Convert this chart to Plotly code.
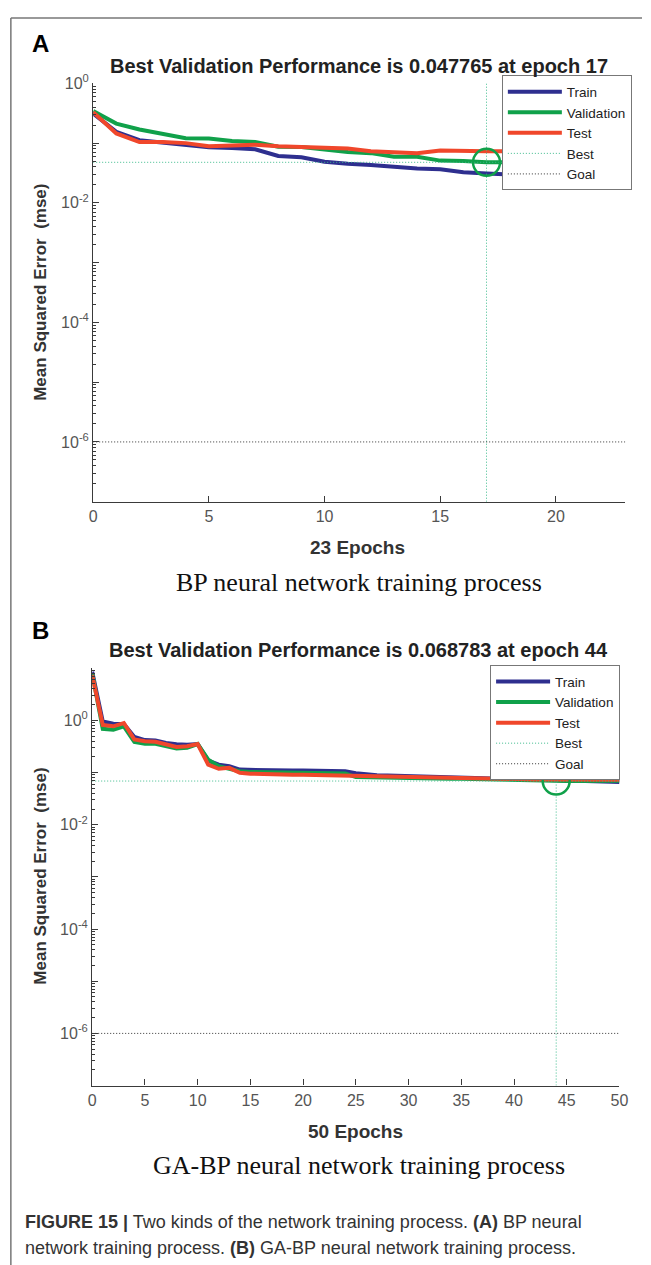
import plotly.graph_objects as go

# ---------------- data ----------------
# Panel A: BP network (23 epochs)
epochs_a = list(range(24))
train_a = [0.312, 0.155, 0.112, 0.103, 0.095, 0.085, 0.083, 0.079, 0.061, 0.058,
           0.049, 0.045, 0.043, 0.040, 0.0376, 0.0366, 0.0327, 0.031, 0.030, 0.029,
           0.028, 0.027, 0.026, 0.025]
val_a = [0.344, 0.212, 0.169, 0.141, 0.121, 0.120, 0.109, 0.104, 0.087, 0.086,
         0.077, 0.071, 0.068, 0.059, 0.059, 0.051, 0.050, 0.047765, 0.048, 0.049,
         0.050, 0.050, 0.051, 0.052]
test_a = [0.330, 0.145, 0.104, 0.104, 0.100, 0.089, 0.091, 0.094, 0.089, 0.087,
          0.083, 0.081, 0.073, 0.071, 0.068, 0.075, 0.073, 0.073, 0.073, 0.074,
          0.074, 0.075, 0.075, 0.076]
best_epoch_a = 17
best_perf_a = 0.047765
goal_a = 1e-6

# Panel B: GA-BP network (50 epochs)
epochs_b = list(range(51))
train_b = [8.6, 0.955, 0.86, 0.85, 0.48, 0.42, 0.41, 0.37, 0.35, 0.34,
           0.353, 0.17, 0.142, 0.132, 0.114, 0.112, 0.111, 0.110, 0.110, 0.109,
           0.109, 0.108, 0.108, 0.107, 0.106, 0.097, 0.091, 0.089, 0.088, 0.087,
           0.086, 0.085, 0.084, 0.083, 0.081, 0.080, 0.079, 0.078, 0.077, 0.076,
           0.075, 0.074, 0.073, 0.072, 0.072, 0.071, 0.070, 0.069, 0.068, 0.067,
           0.066]
val_b = [8.0, 0.69, 0.66, 0.77, 0.385, 0.358, 0.355, 0.32, 0.29, 0.30,
         0.353, 0.177, 0.132, 0.118, 0.106, 0.103, 0.102, 0.101, 0.100, 0.099,
         0.099, 0.098, 0.097, 0.097, 0.096, 0.082, 0.081, 0.080, 0.080, 0.079,
         0.078, 0.078, 0.077, 0.077, 0.076, 0.076, 0.075, 0.075, 0.074, 0.073,
         0.072, 0.071, 0.070, 0.069, 0.068783, 0.069, 0.069, 0.069, 0.070, 0.070,
         0.070]
test_b = [7.4, 0.82, 0.77, 0.89, 0.43, 0.40, 0.39, 0.35, 0.31, 0.32,
          0.353, 0.142, 0.118, 0.123, 0.099, 0.095, 0.093, 0.092, 0.092, 0.091,
          0.091, 0.090, 0.090, 0.089, 0.088, 0.086, 0.085, 0.085, 0.085, 0.084,
          0.084, 0.083, 0.082, 0.081, 0.080, 0.079, 0.079, 0.078, 0.077, 0.076,
          0.075, 0.075, 0.074, 0.074, 0.074, 0.074, 0.073, 0.073, 0.073, 0.073,
          0.073]
best_epoch_b = 44
best_perf_b = 0.068783
goal_b = 1e-6

# ---------------- styling ----------------
W, H = 651, 1265
C_TRAIN = "#2E2F8F"
C_VAL = "#10A14A"
C_TEST = "#F0472B"
C_BEST = "#3DBB8C"
C_GOAL = "#333333"
SANS = "Liberation Sans, Arial, sans-serif"
SERIF = "Liberation Serif, Times New Roman, serif"


def px_x(p):
    return p / W


def px_y(p):
    return 1 - p / H


fig = go.Figure()


def add_panel(xa, ya, leg, epochs, tr, va, te, best_ep, best_val, goal, ylo, yhi):
    common = dict(xaxis=xa, yaxis=ya, legend=leg, mode="lines")
    fig.add_trace(go.Scatter(x=epochs, y=tr, name="Train",
                             line=dict(color=C_TRAIN, width=4), **common))
    fig.add_trace(go.Scatter(x=epochs, y=va, name="Validation",
                             line=dict(color=C_VAL, width=4), **common))
    fig.add_trace(go.Scatter(x=epochs, y=te, name="Test",
                             line=dict(color=C_TEST, width=4), **common))
    last = epochs[-1]
    # best epoch cross-hair (horizontal at best value, vertical at best epoch)
    fig.add_trace(go.Scatter(
        x=[epochs[0], last, None, best_ep, best_ep],
        y=[best_val, best_val, None, 10 ** ylo, 10 ** yhi],
        name="Best", line=dict(color=C_BEST, width=1, dash="1px,2px"), **common))
    fig.add_trace(go.Scatter(x=[epochs[0], last], y=[goal, goal], name="Goal",
                             line=dict(color=C_GOAL, width=1, dash="1px,2px"), **common))
    fig.add_trace(go.Scatter(x=[best_ep], y=[best_val], mode="markers",
                             showlegend=False, xaxis=xa, yaxis=ya,
                             marker=dict(symbol="circle-open", size=27, color=C_VAL,
                                         line=dict(color=C_VAL, width=2.5))))


add_panel("x", "y", "legend", epochs_a, train_a, val_a, test_a,
          best_epoch_a, best_perf_a, goal_a, -7, 0)
add_panel("x2", "y2", "legend2", epochs_b, train_b, val_b, test_b,
          best_epoch_b, best_perf_b, goal_b, -7, 1)


def log_ticks(lo, hi):
    vals = [10.0 ** d for d in range(lo, hi + 1)]
    text = [f"10<sup>{d}</sup>" if d % 2 == 0 else "" for d in range(lo, hi + 1)]
    minor = [k * 10.0 ** d for d in range(lo, hi) for k in range(2, 10)]
    return vals, text, minor


axis_line = dict(showline=True, linecolor="#3a3a3a", linewidth=1.3,
                 showgrid=False, zeroline=False, ticks="inside", ticklen=6,
                 tickcolor="#3a3a3a", tickfont=dict(family=SANS, size=16, color="#555555"))

va_, ta_, ma_ = log_ticks(-7, 0)
vb_, tb_, mb_ = log_ticks(-7, 1)

legend_style = dict(xanchor="left", yanchor="top", bgcolor="white",
                    bordercolor="#777777", borderwidth=1,
                    font=dict(family=SANS, size=13.5, color="#222222"),
                    tracegroupgap=0, itemwidth=54)

fig.update_layout(
    width=W, height=H, autosize=False,
    margin=dict(l=0, r=0, t=0, b=0),
    paper_bgcolor="white", plot_bgcolor="white",
    xaxis=dict(domain=[px_x(91), px_x(634)], range=[0, 23], anchor="y",
               tickvals=[0, 5, 10, 15, 20], **axis_line),
    yaxis=dict(domain=[px_y(495), px_y(73)], type="log", range=[-7, 0], anchor="x",
               tickvals=va_, ticktext=ta_,
               minor=dict(tickvals=ma_, ticks="inside", ticklen=3, tickcolor="#3a3a3a"),
               **axis_line),
    xaxis2=dict(domain=[px_x(90), px_x(628)], range=[0, 50], anchor="y2",
                tickvals=list(range(0, 51, 5)), **axis_line),
    yaxis2=dict(domain=[px_y(1084), px_y(663)], type="log", range=[-7, 1], anchor="x2",
                tickvals=vb_, ticktext=tb_,
                minor=dict(tickvals=mb_, ticks="inside", ticklen=3, tickcolor="#3a3a3a"),
                **axis_line),
    legend=dict(x=px_x(508), y=px_y(65), **legend_style),
    legend2=dict(x=px_x(496), y=px_y(660), **legend_style),
    showlegend=True,
)

ann = []


def text(x, y, s, size, family=SANS, color="#222222", angle=0, xanchor="center"):
    ann.append(dict(x=px_x(x), y=px_y(y), xref="paper", yref="paper", text=s,
                    showarrow=False, textangle=angle, xanchor=xanchor, yanchor="middle",
                    font=dict(family=family, size=size, color=color)))


# panel letters
text(37, 33, "<b>A</b>", 24, color="#000000")
text(37, 625, "<b>B</b>", 24, color="#000000")
# titles
text(362, 55, "<b>Best Validation Performance is 0.047765 at epoch 17</b>", 20)
text(362, 645, "<b>Best Validation Performance is 0.068783 at epoch 44</b>", 20)
# axis titles
text(361, 541, "<b>23 Epochs</b>", 19, color="#333333")
text(359, 1130, "<b>50 Epochs</b>", 19, color="#333333")
text(37, 284, "<b>Mean Squared Error  (mse)</b>", 17, color="#333333", angle=-90)
text(37, 873, "<b>Mean Squared Error  (mse)</b>", 17, color="#333333", angle=-90)
# sub captions
text(362, 577, "BP neural network training process", 26, family=SERIF, color="#111111")
text(362, 1165, "GA-BP neural network training process", 26, family=SERIF, color="#111111")
# figure caption
text(19, 1222, "<b>FIGURE 15 |</b> Two kinds of the network training process. <b>(A)</b> BP neural",
     18, color="#333333", xanchor="left")
text(19, 1248, "network training process. <b>(B)</b> GA-BP neural network training process.",
     18, color="#333333", xanchor="left")

fig.update_layout(annotations=ann)

# page frame
fig.update_layout(shapes=[
    dict(type="line", xref="paper", yref="paper", x0=px_x(7), x1=1, y0=px_y(7), y1=px_y(7),
         line=dict(color="#777777", width=1.5)),
    dict(type="line", xref="paper", yref="paper", x0=px_x(7), x1=px_x(7), y0=px_y(7), y1=0,
         line=dict(color="#777777", width=1.5)),
])

fig.write_html("out.html", config={"displayModeBar": False})
